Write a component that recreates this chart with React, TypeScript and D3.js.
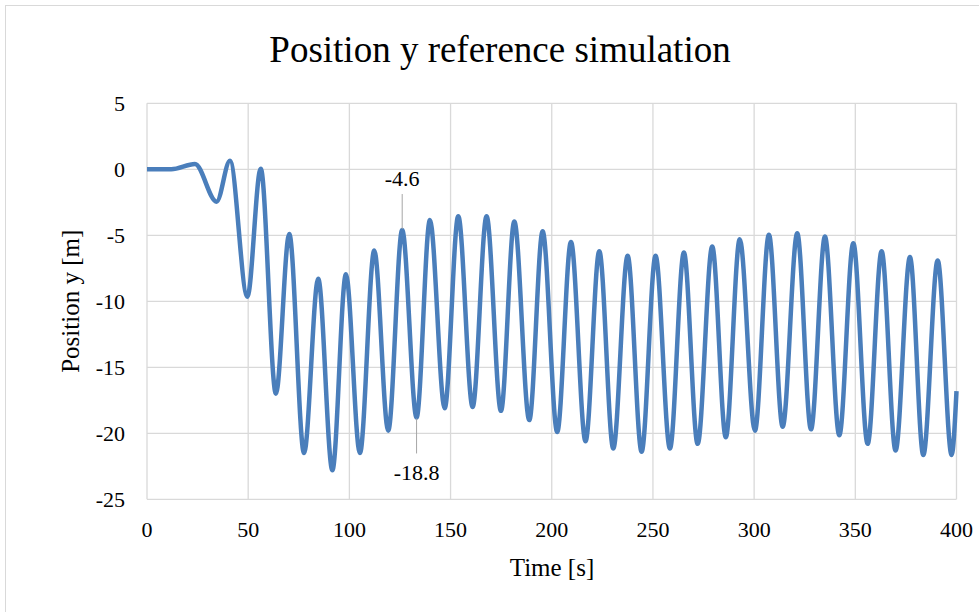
import React from "react";
import * as d3 from "d3";

const TITLE = "Position y reference simulation";
const X_LABEL = "Time [s]";
const Y_LABEL = "Position y [m]";
const X_TICKS = [0, 50, 100, 150, 200, 250, 300, 350, 400];
const Y_TICKS = [5, 0, -5, -10, -15, -20, -25];

// Extrema of the simulated trace (time in s, position in m)
const TIME = [0, 12, 23.7, 34.4, 41, 49.6, 56.2, 63.7, 70.3, 77.6, 84.6, 91.6, 98.3, 105.2, 112.3, 119.2, 126.1, 133.2, 139.8, 147.1, 153.8, 160.9, 167.8, 174.9, 181.5, 188.9, 195.5, 202.7, 209.5, 216.7, 223.5, 230.4, 237.5, 244.4, 251.3, 258.4, 265.3, 272.1, 279.3, 286.0, 292.9, 300.4, 307.3, 314.1, 321.3, 328.1, 335.0, 342.1, 349.0, 356.1, 363.0, 369.9, 377.0, 383.6, 390.7, 397.6, 400];
const POS = [0, 0, 0.4, -2.45, 0.65, -9.65, 0.05, -17.0, -4.9, -21.5, -8.3, -22.8, -7.95, -21.5, -6.15, -19.8, -4.6, -18.8, -3.85, -18.1, -3.55, -18.0, -3.55, -18.3, -3.95, -19.0, -4.7, -19.9, -5.5, -20.6, -6.2, -21.15, -6.55, -21.4, -6.55, -21.15, -6.3, -20.8, -5.85, -20.3, -5.3, -19.8, -4.95, -19.5, -4.85, -19.7, -5.1, -20.15, -5.6, -20.8, -6.2, -21.3, -6.65, -21.65, -6.9, -21.65, -16.8];

const ANNOT_T = [126.1, 133.2];
const ANNOT_V = [-4.6, -18.8];
const ANNOT_LABEL = ["-4.6", "-18.8"];
const ANNOT_DIR = [-1, 1]; // -1 above, 1 below

const W = 979;
const H = 612;
const FONT = "Liberation Serif, Times New Roman, serif";

export default function App() {
  const x = d3.scaleLinear().domain([0, 400]).range([147, 956.5]);
  const y = d3.scaleLinear().domain([-25, 5]).range([499.3, 103.3]);
  const data = TIME.map((t, i) => [t, POS[i]] as [number, number]);
  const line = d3
    .line<[number, number]>()
    .x((d) => x(d[0]))
    .y((d) => y(d[1]))
    .curve(d3.curveMonotoneX);

  const txt = { fontFamily: FONT, fill: "#000" };

  return (
    <svg
      width={W}
      height={H}
      style={{ position: "absolute", left: 0, top: 0, background: "#fff" }}
    >
      <rect x={0} y={0} width={W} height={H} fill="#fff" />
      <rect x={5.5} y={5.5} width={W + 10} height={H + 10} fill="none" stroke="#d9d9d9" strokeWidth={1} />
      <text x={500} y={62} textAnchor="middle" fontSize={37} style={txt}>
        {TITLE}
      </text>
      {Y_TICKS.map((v) => (
        <line key={"gy" + v} x1={x(0)} x2={x(400)} y1={y(v)} y2={y(v)} stroke="#d9d9d9" strokeWidth={1.3} />
      ))}
      {X_TICKS.map((v) => (
        <line key={"gx" + v} x1={x(v)} x2={x(v)} y1={y(5)} y2={y(-25)} stroke="#d9d9d9" strokeWidth={1.3} />
      ))}
      {Y_TICKS.map((v) => (
        <text key={"ty" + v} x={125} y={y(v)} dy="0.35em" textAnchor="end" fontSize={22} style={txt}>
          {v}
        </text>
      ))}
      {X_TICKS.map((v) => (
        <text key={"tx" + v} x={x(v)} y={537} textAnchor="middle" fontSize={22} style={txt}>
          {v}
        </text>
      ))}
      <text x={552} y={576} textAnchor="middle" fontSize={25} style={txt}>
        {X_LABEL}
      </text>
      <text
        transform={`translate(79, ${(y(5) + y(-25)) / 2}) rotate(-90)`}
        textAnchor="middle"
        fontSize={25}
        style={txt}
      >
        {Y_LABEL}
      </text>
      <path d={line(data) || ""} fill="none" stroke="#4a7ebb" strokeWidth={4.5} strokeLinejoin="round" />
      {ANNOT_T.map((t, i) => {
        const px = x(t);
        const py = y(ANNOT_V[i]);
        const dir = ANNOT_DIR[i];
        const y1 = py + dir * 1;
        const y2 = py + dir * 36;
        const ty = dir < 0 ? y2 - 8 : y2 + 27;
        return (
          <g key={"a" + i}>
            <line x1={px} x2={px} y1={y1} y2={y2} stroke="#a6a6a6" strokeWidth={1} />
            <text x={px} y={ty} textAnchor="middle" fontSize={22} style={txt}>
              {ANNOT_LABEL[i]}
            </text>
          </g>
        );
      })}
    </svg>
  );
}
